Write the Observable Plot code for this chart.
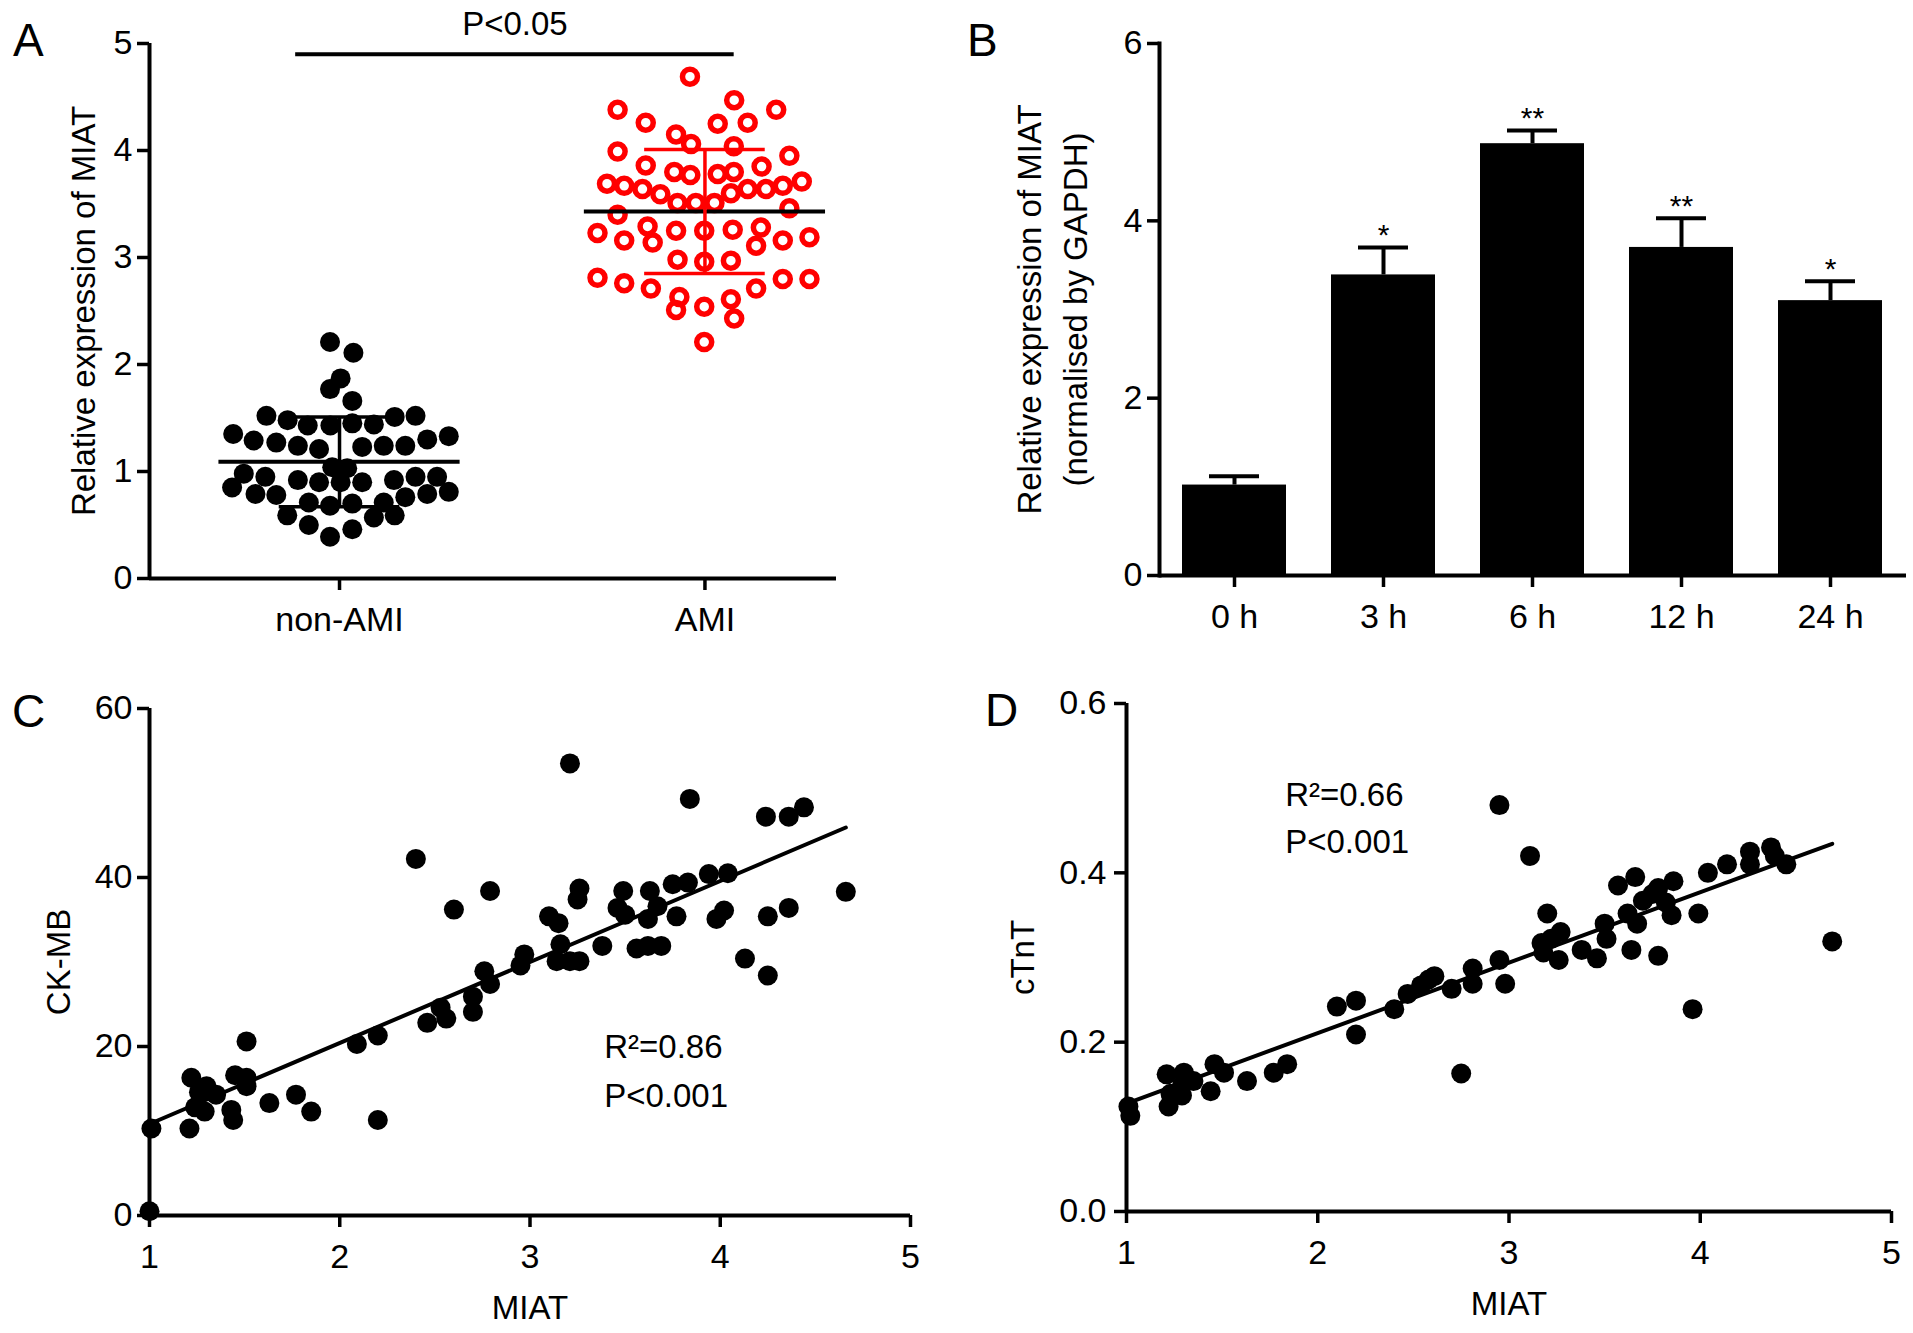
<!DOCTYPE HTML>
<html lang="en-US">
  <head>
    <meta charset="UTF-8">
    <title>MIAT expression in AMI</title>
    <style>
      body { margin: 0; background: #fff; }
      #fig { position: relative; width: 1913px; height: 1333px; overflow: hidden; }
      .panel-label { position: absolute; font: 46px "Liberation Sans", Arial, sans-serif; line-height: 1; color: #000; }
    </style>
  </head>
  <body>
    <div id="fig">
      <span class="panel-label" style="left:13px;top:17px">A</span>
      <span class="panel-label" style="left:967px;top:17px">B</span>
      <span class="panel-label" style="left:12px;top:688px">C</span>
      <span class="panel-label" style="left:985px;top:687px">D</span>
    </div>
    <script src="https://cdn.jsdelivr.net/npm/d3@7"></script>
    <script src="https://cdn.jsdelivr.net/npm/@observablehq/plot@0.6"></script>
    <script>
      // panel A: [offset from group centre, relative expression]
      const groups = ['non-AMI', 'AMI'];
      const nonAmi = [
        [-0.026, 2.21], [0.038, 2.11], [0.003, 1.87], [-0.026, 1.77], [0.035, 1.66],
        [-0.200, 1.52], [-0.142, 1.48], [-0.087, 1.43], [-0.025, 1.43], [0.035, 1.45],
        [0.094, 1.44], [0.151, 1.51], [0.208, 1.52],
        [-0.291, 1.35], [-0.235, 1.29], [-0.173, 1.27], [-0.114, 1.24], [-0.056, 1.21],
        [0.062, 1.23], [0.121, 1.24], [0.180, 1.24], [0.240, 1.30], [0.299, 1.33],
        [-0.262, 0.98], [-0.294, 0.85], [-0.203, 0.95], [-0.230, 0.79], [-0.173, 0.78],
        [-0.114, 0.92], [-0.056, 0.90], [-0.020, 1.04], [0.021, 1.03], [0.003, 0.90],
        [0.062, 0.90], [0.149, 0.92], [0.208, 0.95], [0.267, 0.95], [0.299, 0.81],
        [0.240, 0.79], [0.180, 0.76],
        [-0.084, 0.71], [-0.026, 0.68], [0.035, 0.70], [0.121, 0.71], [-0.143, 0.59],
        [0.094, 0.57], [0.151, 0.59], [-0.084, 0.50], [0.035, 0.46], [-0.026, 0.39]
      ];
      const ami = [
        [-0.041, 4.69], [-0.239, 4.38], [0.080, 4.47], [0.195, 4.38], [-0.162, 4.26],
        [0.035, 4.25], [0.117, 4.26], [-0.079, 4.15], [-0.038, 4.06], [0.079, 4.04],
        [-0.239, 3.99], [0.231, 3.95], [-0.162, 3.86], [0.155, 3.85], [-0.084, 3.80],
        [-0.040, 3.77], [0.035, 3.78], [0.079, 3.80], [-0.268, 3.69], [-0.221, 3.67],
        [-0.171, 3.64], [-0.122, 3.59], [0.117, 3.64], [0.167, 3.64], [0.213, 3.67],
        [0.265, 3.71], [0.071, 3.60], [-0.075, 3.51], [-0.025, 3.51], [0.026, 3.51],
        [0.231, 3.46], [-0.239, 3.40], [-0.294, 3.23], [-0.221, 3.16], [-0.157, 3.29],
        [-0.143, 3.14], [-0.079, 3.25], [-0.002, 3.25], [0.076, 3.26], [0.153, 3.28],
        [0.140, 3.11], [0.213, 3.16], [0.286, 3.19], [-0.075, 2.98], [-0.002, 2.96],
        [0.071, 2.97], [-0.294, 2.81], [-0.221, 2.76], [-0.148, 2.71], [0.140, 2.71],
        [0.213, 2.80], [0.286, 2.80], [-0.070, 2.63], [-0.079, 2.51], [-0.002, 2.54],
        [0.071, 2.61], [0.080, 2.43], [-0.002, 2.21]
      ];
      const groupMean = [1.09, 3.43];
      const groupSD = [0.42, 0.58];
      const groupBarColor = ['black', 'red'];

      // panel B
      const times = ['0 h', '3 h', '6 h', '12 h', '24 h'];
      const timeMean = [1.02, 3.39, 4.87, 3.70, 3.10];
      const timeErrTop = [1.12, 3.70, 5.02, 4.03, 3.32];
      const timeStars = ['', '*', '**', '**', '*'];

      // panel C: [MIAT, CK-MB]
      const ckmb = [
        [1.00, 0.5], [1.01, 10.3], [1.21, 10.3], [1.24, 12.8], [1.22, 16.3], [1.29, 12.3],
        [1.30, 15.3], [1.35, 14.3], [1.26, 14.6], [1.43, 12.5], [1.44, 11.3], [1.45, 16.6],
        [1.51, 20.6], [1.51, 15.3], [1.51, 16.3], [1.63, 13.3], [1.77, 14.3], [1.85, 12.3],
        [2.09, 20.3], [2.20, 21.3], [2.20, 11.3], [2.40, 42.2], [2.46, 22.8], [2.53, 24.6],
        [2.56, 23.3], [2.60, 36.2], [2.70, 24.1], [2.70, 25.9], [2.76, 28.9], [2.79, 38.4],
        [2.79, 27.4], [2.95, 29.6], [2.97, 30.9], [3.10, 35.4], [3.15, 34.6], [3.16, 32.1],
        [3.14, 30.1], [3.21, 53.5], [3.21, 30.1], [3.26, 30.1], [3.25, 37.4], [3.26, 38.7],
        [3.38, 31.9], [3.46, 36.4], [3.49, 38.4], [3.50, 35.6], [3.56, 31.6], [3.62, 31.9],
        [3.62, 35.1], [3.63, 38.4], [3.67, 36.6], [3.69, 31.9], [3.75, 39.2], [3.77, 35.4],
        [3.84, 49.3], [3.83, 39.4], [3.94, 40.4], [3.98, 35.1], [4.02, 36.1], [4.04, 40.5],
        [4.13, 30.4], [4.24, 47.2], [4.25, 35.4], [4.25, 28.4], [4.36, 47.2], [4.36, 36.4],
        [4.44, 48.3], [4.66, 38.3]
      ];

      // panel D: [MIAT, cTnT]
      const ctnt = [
        [1.01, 0.124], [1.02, 0.113], [1.21, 0.162], [1.22, 0.124], [1.23, 0.139], [1.29, 0.149],
        [1.30, 0.164], [1.35, 0.154], [1.29, 0.137], [1.44, 0.142], [1.46, 0.174], [1.51, 0.164],
        [1.63, 0.154], [1.77, 0.164], [1.84, 0.174], [2.10, 0.242], [2.20, 0.249], [2.20, 0.209],
        [2.40, 0.239], [2.47, 0.257], [2.54, 0.267], [2.58, 0.274], [2.61, 0.278], [2.70, 0.263],
        [2.75, 0.163], [2.81, 0.269], [2.81, 0.287], [2.95, 0.480], [2.95, 0.297], [2.98, 0.269],
        [3.11, 0.420], [3.17, 0.317], [3.18, 0.306], [3.20, 0.352], [3.22, 0.322], [3.26, 0.297],
        [3.27, 0.330], [3.38, 0.309], [3.46, 0.299], [3.50, 0.340], [3.51, 0.322], [3.57, 0.385],
        [3.64, 0.309], [3.66, 0.395], [3.67, 0.340], [3.70, 0.367], [3.75, 0.375], [3.78, 0.302],
        [3.78, 0.382], [3.85, 0.350], [3.86, 0.390], [3.96, 0.239], [3.99, 0.352], [4.04, 0.400],
        [4.14, 0.410], [4.26, 0.425], [4.26, 0.410], [4.37, 0.430], [4.39, 0.420], [4.45, 0.410],
        [4.69, 0.319], [3.82, 0.365], [3.62, 0.352]
      ];

      const font = '"Liberation Sans", Arial, sans-serif';
      const fig = document.getElementById('fig');
      const place = (left, top) => ({
        position: 'absolute', left: `${left}px`, top: `${top}px`,
        overflow: 'visible', background: 'transparent',
        fontFamily: font, fontSize: '34px', color: 'black'
      });
      const axisStyle = {tickSize: 12, strokeWidth: 3.5, fontSize: 34, fontFamily: font, label: null};
      const intFmt = d => String(d);
      const yTitle = (text, dx) => Plot.text([text], {
        frameAnchor: 'left', textAnchor: 'middle', lineAnchor: 'middle', dx, rotate: -90,
        fontSize: 33, fontFamily: font, lineHeight: 1.4
      });
      const xTitle = (text, dy) => Plot.text([text], {
        frameAnchor: 'bottom', textAnchor: 'middle', lineAnchor: 'middle', dy, fontSize: 33, fontFamily: font
      });

      // ---- A ----
      const xDomA = [0.48, 2.36];
      const summary = groups.map((g, i) => ({
        pos: i + 1, mean: groupMean[i], sd: groupSD[i], color: groupBarColor[i]
      }));
      const sig = {x1: 0.88, x2: 2.08, y: 4.9, text: 'P<0.05'};
      fig.appendChild(Plot.plot({
        width: 956, height: 666,
        marginLeft: 149, marginRight: 120, marginTop: 43, marginBottom: 88,
        style: place(0, 0),
        x: {domain: xDomA},
        y: {domain: [0, 5]},
        marks: [
          Plot.axisY({...axisStyle, ticks: [0, 1, 2, 3, 4, 5], tickFormat: intFmt, tickPadding: 5}),
          Plot.axisX({...axisStyle, ticks: [1, 2], tickFormat: d => groups[d - 1], tickPadding: 16}),
          Plot.ruleX([xDomA[0]], {y1: 0, y2: 5, strokeWidth: 4}),
          Plot.ruleY([0], {x1: xDomA[0], x2: xDomA[1], strokeWidth: 4}),
          Plot.dot(nonAmi, {x: d => 1 + d[0], y: d => d[1], r: 10, fill: 'black'}),
          Plot.dot(ami, {x: d => 2 + d[0], y: d => d[1], r: 7.5, stroke: 'red', strokeWidth: 5.5, fill: 'none'}),
          Plot.ruleY(summary, {y: 'mean', x1: d => d.pos - 0.33, x2: d => d.pos + 0.33, strokeWidth: 4}),
          Plot.ruleX(summary, {x: 'pos', y1: d => d.mean - d.sd, y2: d => d.mean + d.sd, stroke: 'color', strokeWidth: 3.5}),
          Plot.ruleY(summary, {y: d => d.mean + d.sd, x1: d => d.pos - 0.165, x2: d => d.pos + 0.165, stroke: 'color', strokeWidth: 3.5}),
          Plot.ruleY(summary, {y: d => d.mean - d.sd, x1: d => d.pos - 0.165, x2: d => d.pos + 0.165, stroke: 'color', strokeWidth: 3.5}),
          Plot.ruleY([sig], {y: 'y', x1: 'x1', x2: 'x2', strokeWidth: 4}),
          Plot.text([sig], {x: d => (d.x1 + d.x2) / 2, y: 'y', text: 'text', dy: -30, fontSize: 33, fontFamily: font}),
          yTitle('Relative expression of MIAT', -69)
        ]
      }));

      // ---- B ----
      const bars = times.map((t, i) => ({time: t, value: timeMean[i], err: timeErrTop[i], stars: timeStars[i]}));
      fig.appendChild(Plot.plot({
        width: 957, height: 666,
        marginLeft: 203, marginRight: 7, marginTop: 43, marginBottom: 91,
        style: place(956, 0),
        x: {domain: times, paddingInner: 0.3, paddingOuter: 0.155},
        y: {domain: [0, 6]},
        marks: [
          Plot.axisY({...axisStyle, ticks: [0, 2, 4, 6], tickFormat: intFmt, tickPadding: 5}),
          Plot.axisX({...axisStyle, tickPadding: 16}),
          Plot.barY(bars, {x: 'time', y: 'value', fill: 'black'}),
          Plot.ruleX(bars, {x: 'time', y1: 'value', y2: 'err', strokeWidth: 4}),
          Plot.tickY(bars, {x: 'time', y: 'err', strokeWidth: 4, insetLeft: 27, insetRight: 27}),
          Plot.text(bars, {x: 'time', y: 'err', text: 'stars', lineAnchor: 'bottom', dy: -2, fontSize: 30, fontFamily: font}),
          Plot.frame({anchor: 'left', strokeWidth: 4}),
          Plot.ruleY([0], {strokeWidth: 4}),
          yTitle('Relative expression of MIAT\n(normalised by GAPDH)', -110)
        ]
      }));

      // ---- C ----
      const noteC = [{x: 3.39, y: 19.9, text: 'R²=0.86'}, {x: 3.39, y: 14.1, text: 'P<0.001'}];
      fig.appendChild(Plot.plot({
        width: 956, height: 693,
        marginLeft: 149, marginRight: 46, marginTop: 68, marginBottom: 118,
        style: place(0, 640),
        x: {domain: [1, 5]},
        y: {domain: [0, 60]},
        marks: [
          Plot.axisY({...axisStyle, ticks: [0, 20, 40, 60], tickFormat: intFmt, tickPadding: 5}),
          Plot.axisX({...axisStyle, ticks: [1, 2, 3, 4, 5], tickFormat: intFmt, tickPadding: 16}),
          Plot.ruleX([1], {y1: 0, y2: 60, strokeWidth: 4}),
          Plot.ruleY([0], {x1: 1, x2: 5, strokeWidth: 4}),
          Plot.dot(ckmb, {x: d => d[0], y: d => d[1], r: 10, fill: 'black'}),
          Plot.linearRegressionY(ckmb, {x: d => d[0], y: d => d[1], ci: 0, stroke: 'black', strokeWidth: 4}),
          Plot.text(noteC, {x: 'x', y: 'y', text: 'text', textAnchor: 'start', fontSize: 33, fontFamily: font}),
          yTitle('CK-MB', -94),
          xTitle('MIAT', 93)
        ]
      }));

      // ---- D ----
      const noteD = [{x: 1.83, y: 0.491, text: 'R²=0.66'}, {x: 1.83, y: 0.436, text: 'P<0.001'}];
      fig.appendChild(Plot.plot({
        width: 957, height: 693,
        marginLeft: 170, marginRight: 22, marginTop: 63, marginBottom: 122,
        style: place(956, 640),
        x: {domain: [1, 5]},
        y: {domain: [0, 0.6]},
        marks: [
          Plot.axisY({...axisStyle, ticks: [0, 0.2, 0.4, 0.6], tickFormat: '.1f', tickPadding: 8}),
          Plot.axisX({...axisStyle, ticks: [1, 2, 3, 4, 5], tickFormat: intFmt, tickPadding: 16}),
          Plot.ruleX([1], {y1: 0, y2: 0.6, strokeWidth: 4}),
          Plot.ruleY([0], {x1: 1, x2: 5, strokeWidth: 4}),
          Plot.dot(ctnt, {x: d => d[0], y: d => d[1], r: 10, fill: 'black'}),
          Plot.linearRegressionY(ctnt, {x: d => d[0], y: d => d[1], ci: 0, stroke: 'black', strokeWidth: 4}),
          Plot.text(noteD, {x: 'x', y: 'y', text: 'text', textAnchor: 'start', fontSize: 33, fontFamily: font}),
          yTitle('cTnT', -107),
          xTitle('MIAT', 93)
        ]
      }));
    </script>
  </body>
</html>
